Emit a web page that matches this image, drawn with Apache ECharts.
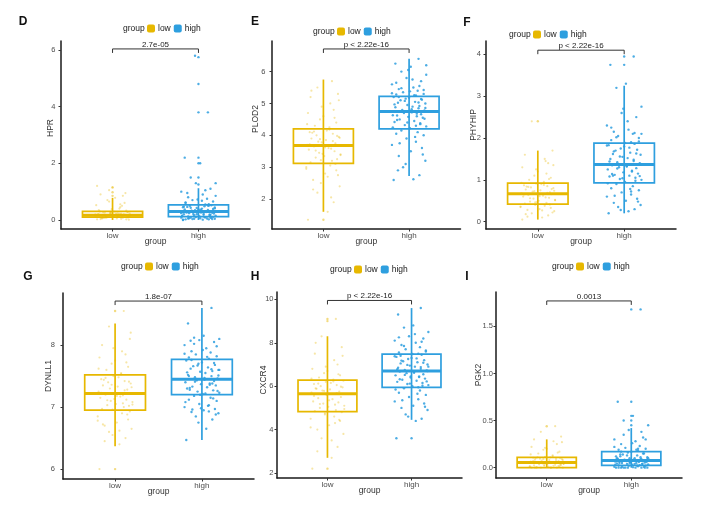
<!DOCTYPE html>
<html><head><meta charset="utf-8">
<script src="https://cdn.jsdelivr.net/npm/echarts@6/dist/echarts.min.js"></script>
<style>html,body{margin:0;padding:0;background:#fff}#c{width:712px;height:505px}</style>
</head><body><div id="c"></div>
<script>
const FONT = '"Liberation Sans", Arial, Helvetica, sans-serif';
const groups = ['low', 'high'];
const groupColors = ['#E7B800', '#2E9FDF'];
const xTicks = [1, 2];
const jitter = [-0.18,0.05,0.12,-0.07,0.19,-0.12,0.02,0.15,-0.2,0.08,-0.03,0.17,-0.15,0.1,-0.09,0.01,0.2,-0.05,0.13,-0.17,0.06,-0.11,0.16,-0.01,0.09,-0.19,0.14,-0.06,0.03,-0.14,0.18,-0.08,0.11,-0.16,0.04,-0.02,0.19,-0.13,0.07,-0.1,0.15,-0.04,0.0,-0.18,0.12,0.08,-0.15,0.17,-0.07,0.1,-0.12,0.05,-0.2,0.14,-0.03,0.2,-0.09,0.02,-0.16,0.11,
  -0.04,0.16,-0.11,0.07,-0.19,0.13,-0.02,0.18,-0.14,0.09,-0.08,0.03,0.19,-0.17,0.11,-0.05,0.14,-0.12,0.06,-0.2,0.01,0.17,-0.09,0.12,-0.15,0.04,-0.01,0.2,-0.13,0.08];

// ---- D: HPR ----
const hprLowStats = [0, 0.1, 0.17, 0.3, 0.78];
const hprHighStats = [0, 0.12, 0.3, 0.53, 1.12];
const hprLowOut = [1.15, 0.98, 0.85];
const hprHighOut = [5.75, 4.8, 3.8, 2.2, 2.0, 1.5, 1.25];
const hprLowPts = [0.02,0.05,0.08,0.1,0.12,0.15,0.17,0.18,0.2,0.22,0.25,0.28,0.3,0.04,0.07,0.11,0.14,0.16,0.19,0.21,0.24,0.27,0.33,0.38,0.45,0.52,0.6,0.7,0.78,0.03,0.09,0.13,0.17,0.2,0.23,0.26,0.01,0.06,0.12,0.18,0.95,1.05,1.15,1.2,0.85,0.4,0.15,0.1,0.08,0.22,
  0.05,0.1,0.14,0.18,0.2,0.23,0.26,0.29,0.35,0.5,0.65,0.02,0.07,0.12,0.16,0.19,0.24,0.28,0.9,0.55];
const hprHighPts = [0.0,0.01,0.02,0.03,0.04,0.05,0.06,0.07,0.08,0.09,0.1,0.11,0.02,0.05,0.08,0.13,0.15,0.17,0.19,0.2,0.22,0.24,0.25,0.27,0.28,0.14,0.18,0.21,0.26,0.29,0.31,0.33,0.35,0.37,0.4,0.42,0.44,0.46,0.48,0.5,0.52,0.34,0.38,0.45,0.5,0.55,0.6,0.65,0.7,0.75,0.8,0.9,1.0,1.1,1.3,1.3,1.5,2.0,2.2,3.8,5.8,
  0.03,0.06,0.1,0.14,0.16,0.2,0.23,0.26,0.3,0.32,0.36,0.41,0.47,0.51,0.04,0.08,0.12,0.18,0.24,0.33,0.39,0.43,0.56,0.62,0.68,0.72,0.85,0.95,1.05,0.01];
const hprTicks = [0, 2, 4, 6];
const hprTickLabels = ['0', '2', '4', '6'];
const hprP = '2.7e-05';

// ---- E: PLOD2 ----
const plod2LowStats = [1.6, 3.12, 3.68, 4.2, 5.75];
const plod2HighStats = [2.72, 4.2, 4.75, 5.22, 6.4];
const plod2LowOut = [1.35];
const plod2HighOut = [];
const plod2LowPts = [1.35,1.6,1.9,2.2,2.4,2.6,2.8,2.9,3.0,3.05,2.5,2.75,3.15,3.2,3.3,3.35,3.4,3.45,3.5,3.55,3.6,3.65,3.25,3.42,3.58,3.7,3.75,3.8,3.85,3.9,3.95,4.0,4.05,4.1,4.15,3.78,3.92,4.08,4.25,4.3,4.4,4.5,4.6,4.7,4.8,5.0,5.2,5.3,5.5,5.7,
  2.3,2.7,2.95,3.1,3.22,3.38,3.52,3.62,3.72,3.82,3.88,3.98,4.12,4.18,4.35,4.55,4.9,5.1,5.4,2.05];
const plod2HighPts = [2.6,2.62,2.75,3.0,3.2,3.35,3.5,3.6,3.7,3.8,3.9,4.0,4.05,4.1,4.15,4.22,4.28,4.32,4.38,4.42,4.45,4.5,4.55,4.58,4.6,4.63,4.66,4.7,4.72,4.48,4.78,4.8,4.85,4.88,4.9,4.95,5.0,5.02,5.05,5.1,5.12,5.15,5.18,5.2,4.92,5.25,5.28,5.3,5.35,5.4,5.45,5.5,5.6,5.7,5.8,5.9,6.0,6.15,6.25,6.4,
  3.1,3.4,3.75,3.95,4.25,4.35,4.4,4.52,4.62,4.68,4.76,4.82,4.86,4.97,5.03,5.08,5.14,5.2,5.26,5.32,5.38,5.42,5.48,5.55,5.65,5.75,6.05,6.2,2.9,4.3];
const plod2Ticks = [2, 3, 4, 5, 6];
const plod2TickLabels = ['2', '3', '4', '5', '6'];
const plod2P = 'p < 2.22e-16';

// ---- F: PHYHIP ----
const phyhipLowStats = [0.05, 0.42, 0.67, 0.92, 1.7];
const phyhipHighStats = [0.2, 0.93, 1.37, 1.88, 3.25];
const phyhipLowOut = [2.4];
const phyhipHighOut = [3.75, 3.95];
const phyhipLowPts = [0.05,0.1,0.15,0.2,0.25,0.28,0.3,0.33,0.35,0.38,0.4,0.22,0.43,0.45,0.48,0.5,0.52,0.55,0.57,0.6,0.62,0.64,0.66,0.47,0.58,0.68,0.7,0.72,0.75,0.77,0.8,0.82,0.85,0.87,0.9,0.91,0.74,0.84,0.95,1.0,1.05,1.1,1.2,1.3,1.4,1.5,1.6,1.7,2.4,1.15,
  0.12,0.27,0.36,0.41,0.46,0.51,0.56,0.61,0.65,0.69,0.73,0.78,0.83,0.88,0.93,1.02,1.25,1.35,0.18,1.45];
const phyhipHighPts = [0.2,0.25,0.3,0.35,0.4,0.45,0.5,0.55,0.6,0.65,0.7,0.75,0.8,0.85,0.9,0.95,1.0,1.02,1.05,1.08,1.1,1.12,1.15,1.18,1.2,1.25,1.28,1.3,1.33,1.35,1.4,1.42,1.45,1.5,1.52,1.55,1.6,1.62,1.65,1.7,1.72,1.75,1.8,1.83,1.86,1.9,1.95,2.0,2.05,2.1,2.15,2.2,2.3,2.5,2.6,2.75,3.2,3.3,3.75,3.95,
  0.28,0.48,0.62,0.78,0.92,0.98,1.04,1.09,1.14,1.22,1.27,1.32,1.38,1.44,1.48,1.56,1.63,1.68,1.77,1.82,1.88,1.92,2.02,2.12,2.25,2.4,2.7,2.1,1.1,0.72];
const phyhipTicks = [0, 1, 2, 3, 4];
const phyhipTickLabels = ['0', '1', '2', '3', '4'];
const phyhipP = 'p < 2.22e-16';

// ---- G: DYNLL1 ----
const dynll1LowStats = [6.37, 6.95, 7.22, 7.52, 8.35];
const dynll1HighStats = [6.47, 7.2, 7.45, 7.77, 8.6];
const dynll1LowOut = [6.0, 8.55];
const dynll1HighOut = [];
const dynll1LowPts = [6.0,6.4,6.5,6.6,6.65,6.7,6.75,6.8,6.85,6.9,6.55,6.93,6.97,7.0,7.03,7.05,7.08,7.1,7.12,7.15,7.17,7.2,7.02,7.13,7.19,7.25,7.28,7.3,7.33,7.35,7.38,7.4,7.42,7.45,7.48,7.5,7.32,7.44,7.55,7.6,7.65,7.7,7.75,7.8,7.85,7.9,8.0,8.1,8.3,8.55,
  6.45,6.62,6.78,6.88,6.96,7.04,7.11,7.18,7.23,7.27,7.36,7.41,7.47,7.53,7.62,7.72,7.95,8.2,6.72,7.06];
const dynll1HighPts = [6.47,6.65,6.8,6.85,6.9,6.92,6.95,6.97,7.0,7.03,7.05,7.1,7.12,7.15,7.18,7.21,7.23,7.25,7.27,7.3,7.32,7.33,7.35,7.37,7.38,7.4,7.42,7.43,7.44,7.28,7.46,7.48,7.5,7.52,7.55,7.57,7.6,7.62,7.64,7.66,7.68,7.7,7.72,7.75,7.58,7.78,7.8,7.82,7.85,7.88,7.9,7.95,8.0,8.05,8.08,8.1,8.12,8.15,8.35,8.6,
  6.75,6.88,6.96,7.02,7.08,7.14,7.2,7.26,7.31,7.36,7.41,7.47,7.51,7.56,7.61,7.67,7.71,7.76,7.81,7.86,7.92,7.98,8.02,7.38,7.5,7.22,6.98,7.6,8.07,6.93];
const dynll1Ticks = [6, 7, 8];
const dynll1TickLabels = ['6', '7', '8'];
const dynll1P = '1.8e-07';

// ---- H: CXCR4 ----
const cxcr4LowStats = [2.7, 4.83, 5.65, 6.28, 8.3];
const cxcr4HighStats = [4.45, 5.95, 6.7, 7.48, 9.6];
const cxcr4LowOut = [9.1, 9.0, 2.2];
const cxcr4HighOut = [3.6];
const cxcr4LowPts = [2.2,2.7,3.2,3.6,3.8,4.0,4.2,4.4,4.5,4.6,4.7,4.8,4.85,4.9,5.0,5.05,5.1,5.2,5.25,5.3,5.4,5.45,5.5,5.6,5.15,5.7,5.75,5.8,5.85,5.9,5.95,6.0,6.05,6.1,6.15,6.2,6.25,5.88,6.3,6.4,6.5,6.6,6.7,6.8,7.0,7.2,7.5,7.8,8.3,9.1,
  3.0,3.5,4.1,4.45,4.75,4.95,5.18,5.35,5.55,5.68,5.78,5.98,6.12,6.22,6.35,6.55,6.9,7.4,8.0,4.3];
const cxcr4HighPts = [3.6,4.4,4.5,4.7,4.9,5.0,5.1,5.2,5.3,5.4,5.5,5.6,5.7,5.8,5.9,6.0,6.05,6.1,6.15,6.2,6.25,6.3,6.35,6.4,6.45,6.5,6.55,6.6,6.65,6.68,6.72,6.75,6.8,6.85,6.9,6.95,7.0,7.05,7.1,7.15,7.2,7.25,7.3,7.35,7.45,7.5,7.55,7.6,7.7,7.8,7.9,8.0,8.1,8.2,8.3,8.5,8.7,8.8,9.3,9.6,
  4.6,5.05,5.35,5.65,5.85,6.02,6.12,6.22,6.32,6.42,6.52,6.62,6.7,6.78,6.88,6.98,7.08,7.18,7.28,7.38,7.48,7.65,7.85,8.05,8.25,8.4,6.45,6.9,7.4,5.95];
const cxcr4Ticks = [2, 4, 6, 8, 10];
const cxcr4TickLabels = ['2', '4', '6', '8', '10'];
const cxcr4P = 'p < 2.22e-16';

// ---- I: PGK2 ----
const pgk2LowStats = [0, 0.0, 0.055, 0.11, 0.3];
const pgk2HighStats = [0, 0.025, 0.077, 0.17, 0.42];
const pgk2LowOut = [0.44];
const pgk2HighOut = [1.68, 0.7, 0.55, 0.5, 0.45];
const pgk2LowPts = [0,0,0,0,0,0.005,0.01,0.01,0.015,0.02,0.02,0.03,0.025,0.03,0.035,0.04,0.04,0.045,0.05,0.05,0.055,0.06,0.03,0.045,0.058,0.065,0.07,0.075,0.08,0.085,0.09,0.095,0.1,0.105,0.11,0.115,0.08,0.1,0.13,0.15,0.17,0.19,0.2,0.22,0.25,0.28,0.3,0.33,0.38,0.44,
  0,0,0.01,0.02,0.03,0.04,0.05,0.06,0.07,0.08,0.09,0.1,0.11,0.12,0.14,0.16,0.21,0.27,0.0,0.05];
const pgk2HighPts = [0,0,0,0,0,0,0.005,0.01,0.01,0.015,0.02,0.02,0.022,0.025,0.0,0.03,0.035,0.04,0.04,0.045,0.05,0.05,0.055,0.06,0.06,0.065,0.07,0.07,0.075,0.05,0.08,0.085,0.09,0.095,0.1,0.1,0.11,0.12,0.13,0.14,0.15,0.16,0.17,0.12,0.09,0.18,0.19,0.2,0.21,0.23,0.25,0.28,0.3,0.32,0.4,0.45,0.5,0.55,0.7,1.68,
  0,0,0.01,0.02,0.03,0.04,0.05,0.06,0.065,0.07,0.08,0.085,0.09,0.1,0.11,0.13,0.15,0.17,0.19,0.22,0.26,0.3,0.35,0.38,0.0,0.04,0.06,0.1,0.14,0.2];
const pgk2Ticks = [0, 0.5, 1, 1.5];
const pgk2TickLabels = ['0.0', '0.5', '1.0', '1.5'];
const pgk2P = '0.0013';

// ---- layout (positions and styles) ----
const panels = [
  {letter:'D', gene:'HPR', stats:[hprLowStats,hprHighStats], pts:[hprLowPts,hprHighPts], out:[hprLowOut,hprHighOut], ticks:hprTicks, tickLabels:hprTickLabels, p:hprP, bracketY:6.04,
   grid:{left:61, top:41, width:189, height:188}, yMin:-0.32, yMax:6.32, nameGap:5.5, nameShift:7, labelMargin:5.5, letterXY:[23,22], legendXY:[123,29]},
  {letter:'E', gene:'PLOD2', stats:[plod2LowStats,plod2HighStats], pts:[plod2LowPts,plod2HighPts], out:[plod2LowOut,plod2HighOut], ticks:plod2Ticks, tickLabels:plod2TickLabels, p:plod2P, bracketY:6.71,
   grid:{left:272, top:41, width:188.5, height:188}, yMin:1.06, yMax:6.96, nameGap:11.5, nameShift:16, labelMargin:6.5, letterXY:[255,22], legendXY:[313,32]},
  {letter:'F', gene:'PHYHIP', stats:[phyhipLowStats,phyhipHighStats], pts:[phyhipLowPts,phyhipHighPts], out:[phyhipLowOut,phyhipHighOut], ticks:phyhipTicks, tickLabels:phyhipTickLabels, p:phyhipP, bracketY:4.1,
   grid:{left:486, top:41, width:190, height:188}, yMin:-0.175, yMax:4.32, nameGap:7.5, nameShift:10, labelMargin:5, letterXY:[467,23], legendXY:[509,35]},
  {letter:'G', gene:'DYNLL1', stats:[dynll1LowStats,dynll1HighStats], pts:[dynll1LowPts,dynll1HighPts], out:[dynll1LowOut,dynll1HighOut], ticks:dynll1Ticks, tickLabels:dynll1TickLabels, p:dynll1P, bracketY:8.71,
   grid:{left:63, top:293, width:191, height:186}, yMin:5.84, yMax:8.84, nameGap:10, nameShift:10, labelMargin:8, letterXY:[28,277], legendXY:[121,267]},
  {letter:'H', gene:'CXCR4', stats:[cxcr4LowStats,cxcr4HighStats], pts:[cxcr4LowPts,cxcr4HighPts], out:[cxcr4LowOut,cxcr4HighOut], ticks:cxcr4Ticks, tickLabels:cxcr4TickLabels, p:cxcr4P, bracketY:9.95,
   grid:{left:277, top:292, width:185, height:186}, yMin:1.77, yMax:10.34, nameGap:8.5, nameShift:5, labelMargin:3.5, letterXY:[255,277], legendXY:[330,270]},
  {letter:'I', gene:'PGK2', stats:[pgk2LowStats,pgk2HighStats], pts:[pgk2LowPts,pgk2HighPts], out:[pgk2LowOut,pgk2HighOut], ticks:pgk2Ticks, tickLabels:pgk2TickLabels, p:pgk2P, bracketY:1.77,
   grid:{left:496, top:292, width:186, height:186}, yMin:-0.11, yMax:1.865, nameGap:12.5, nameShift:10, labelMargin:3, letterXY:[467,277], legendXY:[552,267]}
];

function renderBox(params, api) {
  const x = api.value(0);
  const lo = api.value(1), q1 = api.value(2), md = api.value(3), q3 = api.value(4), hi = api.value(5);
  const hw = 0.35;
  const pL = api.coord([x - hw, q1]);
  const pR = api.coord([x + hw, q3]);
  const pM = api.coord([x, md]);
  const pLo = api.coord([x, lo]);
  const pHi = api.coord([x, hi]);
  const col = api.visual('color');
  return {type:'group', children:[
    {type:'line', shape:{x1:pLo[0], y1:pLo[1], x2:pHi[0], y2:pHi[1]}, style:{stroke:col, lineWidth:1.7}},
    {type:'rect', shape:{x:pL[0], y:pR[1], width:pR[0]-pL[0], height:pL[1]-pR[1]}, style:{fill:'none', stroke:col, lineWidth:1.7}},
    {type:'line', shape:{x1:pL[0], y1:pM[1], x2:pR[0], y2:pM[1]}, style:{stroke:col, lineWidth:3}}
  ]};
}

function makeBracket(label) {
  return function (params, api) {
    const a = api.coord([api.value(0), api.value(2)]);
    const b = api.coord([api.value(1), api.value(2)]);
    const d = 4;
    return {type:'group', children:[
      {type:'polyline', shape:{points:[[a[0], a[1]+d],[a[0], a[1]],[b[0], b[1]],[b[0], b[1]+d]]}, style:{stroke:'#333', lineWidth:1, fill:'none'}},
      {type:'text', style:{text:label, x:(a[0]+b[0])/2, y:a[1]-0.5, align:'center', verticalAlign:'bottom', fontSize:8, fill:'#222', fontFamily:FONT}}
    ]};
  };
}

const grid = [], xAxis = [], yAxis = [], series = [], legend = [], graphic = [];
panels.forEach((p, i) => {
  grid.push(Object.assign({containLabel:false, outerBoundsMode:'none'}, p.grid));
  xAxis.push({
    type:'value', gridIndex:i, min:0.4, max:2.6,
    axisLine:{show:true, onZero:false, lineStyle:{color:'#1a1a1a', width:1.5}},
    axisTick:{show:true, length:2.5, customValues:xTicks, lineStyle:{color:'#333', width:1}},
    axisLabel:{customValues:xTicks, formatter:v => groups[Math.round(v)-1], fontSize:8, color:'#4d4d4d', margin:3, fontFamily:FONT},
    splitLine:{show:false},
    name:'group', nameLocation:'middle', nameGap:8, nameMoveOverlap:false, nameTextStyle:{fontSize:8.5, color:'#333', fontFamily:FONT}
  });
  yAxis.push({
    type:'value', gridIndex:i, min:p.yMin, max:p.yMax,
    axisLine:{show:true, onZero:false, lineStyle:{color:'#1a1a1a', width:1.5}},
    axisTick:{show:true, length:2.5, customValues:p.ticks, lineStyle:{color:'#333', width:1}},
    axisLabel:{customValues:p.ticks, formatter:v => { const k = p.ticks.findIndex(t => Math.abs(t - v) < 1e-9); return k >= 0 ? p.tickLabels[k] : ''; }, fontSize:7.5, color:'#4d4d4d', margin:p.labelMargin, fontFamily:FONT},
    splitLine:{show:false},
    name:p.gene, nameLocation:'middle', nameGap:p.nameGap, nameMoveOverlap:false, nameRotate:90,
    nameTextStyle:{fontSize:8.5, color:'#333', fontFamily:FONT, padding:[0, 0, 0, 2 * p.nameShift]}
  });
  groups.forEach((g, gi) => {
    const gx = gi + 1;
    series.push({
      type:'custom', name:g, xAxisIndex:i, yAxisIndex:i, renderItem:renderBox,
      itemStyle:{color:groupColors[gi]}, data:[[gx].concat(p.stats[gi])], silent:true, z:2
    });
  });
  groups.forEach((g, gi) => {
    const gx = gi + 1;
    series.push({
      type:'scatter', name:g, xAxisIndex:i, yAxisIndex:i, symbol:'circle',
      symbolSize: gi === 0 ? 2.2 : 2.4,
      itemStyle:{color:groupColors[gi], opacity: gi === 0 ? 0.35 : 0.85},
      data:p.pts[gi].map((y, k) => [gx + jitter[k % jitter.length], y]), silent:true, z:3
    });
    series.push({
      type:'scatter', name:g, xAxisIndex:i, yAxisIndex:i, symbol:'circle',
      symbolSize: 2.4,
      itemStyle:{color:groupColors[gi], opacity: gi === 0 ? 0.5 : 0.85},
      data:p.out[gi].map(y => [gx, y]), silent:true, z:3
    });
  });
  series.push({
    type:'custom', name:'bracket' + i, xAxisIndex:i, yAxisIndex:i, renderItem:makeBracket(p.p),
    data:[[1, 2, p.bracketY]], silent:true, z:4
  });
  legend.push({
    left:p.legendXY[0] + 24, top:p.legendXY[1] - 5, padding:0, itemWidth:8, itemHeight:8, itemGap:3,
    icon:'roundRect', selectedMode:false,
    textStyle:{fontSize:8.5, color:'#222', fontFamily:FONT, padding:[0,0,0,-2]},
    data:groups.map((g, gi) => ({name:g, itemStyle:{color:groupColors[gi]}}))
  });
  graphic.push({type:'text', left:p.legendXY[0], top:p.legendXY[1] - 5, style:{text:'group', fontSize:8.5, fill:'#222', fontFamily:FONT}});
  graphic.push({type:'text', x:p.letterXY[0], y:p.letterXY[1], style:{text:p.letter, fontSize:12, fontWeight:'bold', fill:'#111', fontFamily:FONT, align:'center', verticalAlign:'middle'}});
});

const chart = echarts.init(document.getElementById('c'), null, {renderer:'canvas'});
chart.setOption({backgroundColor:'#fff', animation:false, grid, xAxis, yAxis, series, legend, graphic});
</script></body></html>
